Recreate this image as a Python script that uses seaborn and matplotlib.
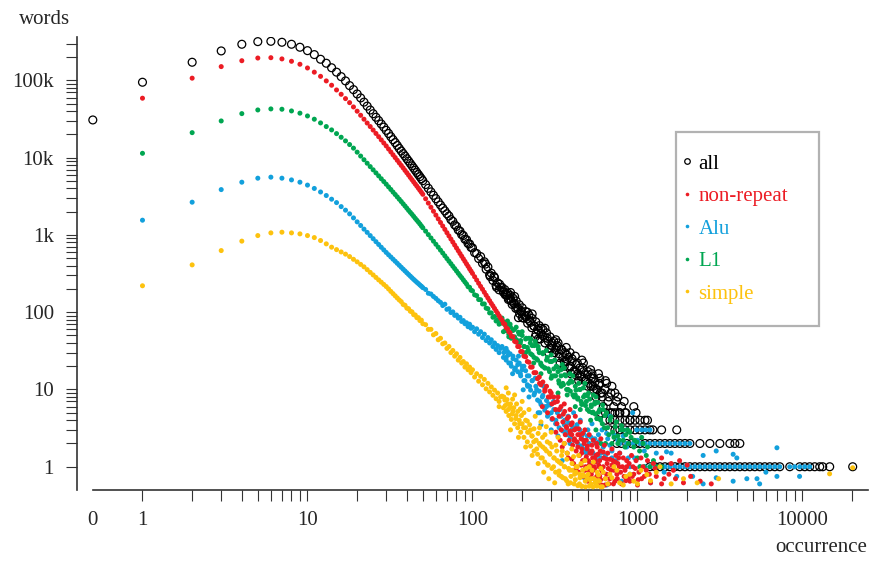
import numpy as np
import pandas as pd
import matplotlib
matplotlib.use("Agg")
import matplotlib.pyplot as plt
from matplotlib.lines import Line2D
from matplotlib.patches import Rectangle
import seaborn as sns

# occurrence values (x) -- every integer at the start, then every 2nd / 3rd ...
occ_head = [1, 2, 3, 4, 5, 6, 7, 8, 9, 10, 11, 12, 13, 14, 15, 16, 17, 18, 19, 20]
occ_mid = [21, 22, 23, 24, 25, 26, 27, 28, 29, 30, 31, 32, 33, 34, 35, 36, 37, 38, 39, 40,
           41, 42, 43, 44, 45, 46, 47, 48, 49, 50,
           52, 54, 56, 58, 60, 62, 64, 66, 68, 70, 72, 74, 76, 78, 80, 82, 84, 86, 88, 90,
           92, 94, 96, 98, 100,
           103, 106, 109, 112, 115, 118, 121, 124, 127, 130, 133, 136, 139, 142, 145, 148]
occ_tail = [151, 154, 157, 160, 163, 166, 169, 172, 176, 180, 184, 188, 192, 196, 200, 205,
            210, 215, 220, 225, 230, 236, 242, 248, 254, 260, 267, 274, 281, 288, 295, 303,
            311, 319, 327, 335, 344, 353, 362, 372, 382, 392, 402, 413, 424, 435, 447, 459,
            471, 484, 497, 510, 524, 538, 552, 567, 582, 598]

# words per occurrence
all_zero = 30800
all_head = [94800, 172000, 241000, 294000, 318000, 321000, 312000, 294000, 269000, 243000,
            216000, 188000, 167000, 146000, 128000, 112000, 98600, 85700, 76000, 66800]
all_mid = [59400, 52400, 46500, 41400, 37100, 33400, 30200, 27300, 24900, 22600,
           20600, 18700, 17100, 15700, 14400, 13200, 12200, 11300, 10500, 9700,
           9040, 8420, 7860, 7340, 6880, 6440, 6050, 5690, 5350, 5040,
           4490, 4020, 3610, 3260, 2950, 2680, 2440, 2230, 2050, 1880,
           1760, 1580, 1500, 1350, 1290, 1160, 1120, 1010, 985, 880,
           870, 775, 765, 690, 680,
           590, 575, 495, 525, 430, 450, 360, 385, 305, 320, 258, 280, 222, 240, 195, 210]
all_band = [210, 181, 196, 170, 178, 150, 166, 140, 152, 128, 140, 115, 125, 104, 114, 92,
            102, 82, 92, 74, 83, 66, 75, 60, 67, 53, 60, 47, 54, 42, 48, 37,
            42, 33, 37, 29, 33, 26, 30, 23, 26, 20, 23, 17.5, 21, 16, 19, 14.5,
            17, 13, 15.5, 12, 14, 11, 12.5, 10, 11.5, 9]
all_tail = [(155, 185), (158, 168), (162, 165), (165, 146), (170, 148), (174, 126), (178, 131),
            (183, 112), (188, 110), (193, 96), (198, 101), (204, 84), (210, 88), (216, 72),
            (222, 78), (229, 63), (236, 66), (243, 52), (250, 58), (258, 45), (266, 50), (275, 40),
            (284, 46), (293, 34), (303, 40), (313, 30), (324, 35), (335, 26), (347, 33), (360, 23),
            (373, 28), (387, 19), (401, 25), (416, 17), (432, 22), (448, 15), (465, 19), (483, 13),
            (502, 17), (522, 11), (543, 14), (565, 10), (588, 12), (612, 8), (637, 10), (663, 7),
            (690, 9), (718, 6), (747, 7), (778, 5),
            (170, 180), (190, 85), (215, 100), (240, 48), (260, 62), (290, 30), (320, 44), (340, 22),
            (370, 35), (395, 16), (420, 27), (440, 13), (470, 22), (500, 11), (530, 16), (560, 8),
            (590, 14), (620, 6), (650, 12), (700, 5), (730, 9), (800, 6), (850, 5), (900, 4),
            (950, 6), (120, 420), (128, 290), (135, 290), (140, 210), (146, 230),
            (180, 160), (200, 85), (230, 95), (250, 45), (275, 62), (300, 34), (330, 40), (360, 20),
            (390, 30), (430, 15), (460, 24), (520, 18), (540, 10), (580, 16), (610, 9), (640, 13),
            (670, 8), (700, 11), (760, 8), (830, 7)]
all_row1 = [1190, 1276, 1368, 1467, 1573, 1686, 1808, 1939, 2078, 2228, 2389, 2561, 2746, 2944,
            3157, 3385, 3629, 3891, 4172, 4473, 4795, 5141, 5512, 5910, 6336, 6794, 7284, 8373,
            9625, 10320, 11060, 11860, 12720, 13260, 14620, 20150]
all_row2 = [750, 800, 860, 920, 980, 1035, 1110, 1190, 1276, 1368, 1467, 1573, 1686, 1808,
            1939, 2078, 2389, 2746, 3157, 3629, 3891, 4172]
all_row3 = [681, 730, 782, 840, 901, 966, 1035, 1110, 1190, 1240, 1400, 1730]
all_row4 = [640, 681, 730, 782, 840, 901, 966, 1035, 1110, 1150]
all_row5 = [600, 640, 681, 730, 782, 840, 980]

nonrep_head = [58900, 107000, 151000, 180000, 195000, 197000, 190000, 177000, 162000, 145000,
               128000, 113000, 98600, 86700, 75300, 66200, 58200, 51600, 45400, 40000]
nonrep_mid = [35400, 31500, 28100, 25300, 22800, 20600, 18700, 17000, 15500, 14200,
              12960, 11880, 10900, 10040, 9260, 8570, 7950, 7380, 6850, 6380,
              5950, 5550, 5190, 4860, 4560, 4290, 4030, 3790, 3570, 3360,
              2940, 2585, 2285, 2028, 1806, 1616, 1450, 1307, 1181, 1070,
              973, 886, 809, 740, 679, 625, 575, 531, 491, 455,
              422, 393, 365, 341, 318,
              288, 261, 237, 216, 198, 181, 166, 153, 141, 130, 121, 112, 104, 97, 90, 84]
nonrep_band = [79, 72, 70, 63, 61, 56, 54, 49, 48, 42, 41, 36, 36, 31, 31, 27,
               26.5, 23, 22.5, 19.5, 19.5, 16.5, 16.5, 13.8, 14.5, 11.5, 12.5, 9.5, 11, 8, 9.5, 6.5,
               8, 5.5, 7, 4.5, 6, 3.8, 5.2, 3.2, 4.4, 2.7, 3.7, 2.2, 3.1, 1.8, 2.6, 1.5,
               2.2, 1.25, 1.85, 1.05, 1.5, 0.9, 1.25, 0.75, 1.05, 0.68]
nonrep_tail = [(255, 12), (265, 6), (275, 10), (285, 5), (295, 8), (305, 4.2),
               (315, 6.8), (325, 3.6), (335, 5.5), (345, 3), (355, 4.8), (365, 2.6), (375, 4.2),
               (385, 2.2), (395, 3.5), (405, 1.9), (415, 3), (425, 1.6), (435, 2.6), (445, 1.4),
               (455, 2.3), (465, 1.2), (475, 2), (485, 1), (495, 1.7), (505, 0.9), (515, 1.5),
               (525, 0.8), (535, 1.3), (545, 0.7), (555, 1.15), (565, 2), (575, 0.62), (585, 1),
               (595, 1.6), (605, 0.58), (615, 0.85), (625, 1.3), (640, 0.7), (655, 1.1), (670, 0.6),
               (690, 0.9), (710, 1.2), (730, 0.65), (750, 0.8), (775, 1), (800, 0.6), (830, 0.75),
               (860, 1), (900, 0.65), (950, 0.8), (1000, 0.58), (1060, 0.7), (1130, 0.9),
               (1200, 0.62), (1300, 0.75), (1400, 0.6), (1550, 0.8), (1700, 0.7), (1900, 0.62),
               (2100, 0.75), (2400, 0.65), (2800, 0.6), (330, 8), (360, 6.5), (390, 5.5), (420, 4.5),
               (450, 3.8), (480, 3), (510, 2.6), (540, 2.2), (570, 1.8), (600, 2.3), (630, 1.9),
               (660, 1.5), (700, 1.7), (740, 1.4), (780, 1.5), (820, 1.3), (860, 1.2), (920, 1.4),
               (980, 1.2), (1050, 1.3), (1150, 1.2), (1250, 1.1), (1400, 1.3), (1600, 1.1),
               (1800, 1.2), (2000, 1.05), (350, 1.8), (380, 1.3), (410, 1.1), (440, 0.85),
               (470, 0.75), (500, 0.65), (530, 1.9), (560, 1.4), (590, 0.75), (620, 1.0), (650, 0.8),
               (680, 1.25), (720, 0.9), (760, 1.1), (790, 0.85), (840, 0.9), (880, 0.7), (940, 1.0),
               (1020, 0.85), (1100, 0.75), (300, 9), (320, 2.8), (340, 2.2), (370, 3.3), (400, 2.6),
               (430, 2.1), (460, 1.7), (490, 1.35), (520, 1.05), (550, 0.95),
               (360, 2.0), (375, 1.5), (390, 2.9), (400, 1.25), (415, 2.3), (425, 0.95), (440, 3.1),
               (455, 1.05), (465, 2.7), (480, 0.9), (490, 2.2), (505, 1.2), (515, 0.72), (530, 1.6),
               (545, 1.0), (560, 0.62), (575, 1.45), (590, 1.2), (605, 0.9), (620, 1.55), (635, 0.58),
               (650, 1.25), (665, 0.95), (680, 0.7), (700, 1.05), (715, 0.6), (735, 1.15), (755, 0.7),
               (770, 1.3), (810, 1.0), (850, 0.66), (890, 1.1), (930, 0.75), (970, 0.95), (1010, 0.68),
               (1080, 1.0), (1180, 0.8), (1280, 0.95), (1450, 0.7), (1650, 0.9)]

alu_head = [1553, 2656, 3866, 4820, 5430, 5600, 5430, 5160, 4820, 4420,
            4000, 3600, 3240, 2904, 2624, 2328, 2094, 1875, 1663, 1478]
alu_mid = [1326, 1190, 1080, 981, 895, 819, 753, 693, 641, 594,
           554, 519, 486, 457, 430, 405, 382, 361, 342, 324,
           308, 293, 279, 266, 255, 244, 235, 225, 217, 208,
           197, 176, 172, 160, 151, 141, 134, 122, 127, 109,
           111, 99, 101, 91, 92, 84, 86, 76, 78, 71,
           73, 65, 70, 62, 64,
           56, 61, 52, 56, 47, 52, 43, 47, 40, 44, 36, 40, 33, 37, 30, 34]
alu_band = [36, 26, 33, 24, 31, 22, 29, 20, 27, 18, 24, 17, 22, 15, 20, 13,
            17.5, 11.5, 15, 9.8, 13, 8.5, 11, 7.3, 9.5, 6.4, 8.4, 5.4, 7.2, 4.7, 6.3, 4.1,
            5.5, 3.6, 5, 3.2, 4.5, 2.9, 4, 2.6, 3.7, 2.4, 3.4, 2.2, 3.2, 2.0, 3.0, 1.85,
            2.7, 1.7, 2.5, 1.6, 2.4, 1.5, 2.3, 1.4, 2.1, 1.3]
alu_tail = [(155, 30), (160, 26), (165, 28), (170, 22), (176, 25), (182, 19), (188, 21), (195, 16),
            (200, 18), (208, 13), (215, 15), (222, 11), (230, 13), (238, 9), (245, 10), (255, 7),
            (265, 8), (275, 6), (290, 6.5), (300, 5), (160, 34), (175, 16), (190, 27), (205, 20),
            (220, 8), (240, 14), (250, 5), (270, 11), (285, 4.5), (310, 7), (320, 4), (340, 5.5),
            (360, 3.5), (380, 4.5), (400, 3), (430, 3.5), (460, 2.5), (500, 3), (540, 2.2),
            (580, 2.6), (620, 1.8), (660, 2.3), (700, 1.6), (256, 5), (281, 6), (203, 9.9),
            (216, 11), (470, 1.66), (650, 2.7), (860, 1.8), (935, 5), (681, 4.5), (860, 3),
            (560, 2.0), (600, 1.5), (700, 1.3), (760, 2.2), (1100, 1.6), (1300, 1.5), (1500, 1.56),
            (1600, 1.5), (2500, 1.4), (3000, 1.6), (3800, 1.45), (7000, 1.76), (4000, 1.3),
            (1730, 0.75), (2160, 0.75), (3000, 0.72), (3800, 0.65), (4600, 0.7), (5300, 0.7),
            (5500, 0.6), (7000, 0.75), (9600, 0.75), (1200, 0.62), (900, 0.8), (650, 0.58),
            (800, 0.65), (1450, 0.85), (2500, 0.6), (6000, 0.85), (350, 1.2), (420, 0.9),
            (480, 0.7), (520, 1.1), (260, 3.5), (300, 3), (330, 2.5), (370, 2.8), (390, 2),
            (410, 5), (440, 1.9), (450, 4), (490, 1.5), (510, 2.0), (530, 3.6), (570, 1.2),
            (610, 3), (640, 1.4), (680, 1.9), (720, 2.6), (740, 1.2), (780, 1.5), (820, 2.5),
            (880, 1.3), (960, 1.3), (1000, 2.2)]
alu_row1 = [901, 1035, 1110, 1190, 1276, 1368, 1467, 1573, 1686, 1808, 1939, 2078, 2228, 2389,
            2561, 2746, 2944, 3157, 3385, 3629, 3891, 4172, 4473, 4795, 5141, 5512, 5910, 6336,
            6794, 7284, 8373, 8977, 9625, 10320, 11060]
alu_row2 = [782, 860, 940, 1035, 1110, 1190, 1276, 1368, 1467, 1573, 1686, 1808, 1939, 2078]
alu_row3 = [990, 1060, 1120, 1190]

l1_head = [11400, 21100, 29900, 37200, 41500, 42800, 42400, 40300, 37700, 34700,
           31500, 28200, 25300, 22900, 20500, 18400, 16500, 14800, 13300, 11800]
l1_mid = [10500, 9410, 8480, 7670, 6970, 6360, 5820, 5340, 4920, 4540,
          4190, 3880, 3590, 3340, 3110, 2900, 2710, 2530, 2370, 2220,
          2080, 1960, 1850, 1740, 1640, 1550, 1470, 1390, 1310, 1240,
          1120, 1010, 914, 831, 758, 694, 636, 584, 537, 495,
          458, 425, 394, 367, 342, 319, 298, 280, 262, 246,
          232, 214, 210, 193, 189,
          168, 164, 146, 145, 128, 128, 113, 111, 98, 98, 86, 88, 77, 80, 70, 72]
l1_band = [84, 56, 69, 58, 77, 48, 70, 46, 58, 48, 64, 41, 52, 43, 56, 36,
           45, 35, 46, 29, 37, 26, 38, 24, 30, 21, 29, 19, 24, 18.5, 23, 15,
           18.5, 15, 19.5, 12, 15, 12, 15.5, 10, 12, 9.5, 12.5, 8, 9.8, 7.8, 10, 6.4,
           8, 6.2, 8.3, 5.2, 6.3, 5.1, 6.8, 4.2, 5.1, 4]
l1_tail = [(155, 75), (158, 58), (162, 70), (166, 52), (170, 64), (175, 48), (180, 60), (185, 44),
           (190, 55), (195, 40), (200, 50), (206, 36), (212, 46), (218, 32), (224, 40), (230, 28),
           (237, 37), (244, 25), (251, 33), (259, 22), (267, 30), (275, 19), (284, 26), (293, 17),
           (302, 23), (312, 15), (322, 20), (333, 13), (344, 18), (356, 11.5), (368, 15), (380, 10),
           (393, 13), (406, 8.5), (420, 11), (434, 7.5), (449, 10), (464, 6.5), (480, 8.5),
           (497, 5.5), (514, 7.5), (532, 5), (550, 6.5), (570, 4.2), (590, 5.5), (612, 3.6),
           (635, 4.6), (658, 3.2), (682, 4), (707, 2.8), (733, 3.3), (760, 2.5), (790, 3),
           (820, 2.2), (850, 2.6), (880, 2), (915, 2.4), (950, 1.8), (990, 2.1), (1030, 1.6),
           (1080, 2), (1130, 1.4), (1190, 1), (1250, 1.2), (1310, 1), (1035, 1), (1100, 1),
           (1400, 1), (600, 2), (640, 2), (700, 2), (760, 2), (820, 3), (870, 3), (560, 3),
           (520, 4), (480, 12), (420, 6), (390, 16), (330, 9), (300, 28), (260, 16), (210, 30),
           (240, 42), (350, 21), (450, 5.5), (620, 5.5), (560, 8),
           (300, 14), (315, 24), (330, 17), (345, 11), (360, 19), (375, 8.5), (390, 12.5),
           (405, 15), (420, 8.5), (440, 12), (455, 7), (470, 10.5), (490, 7), (505, 9), (525, 6),
           (540, 8.5), (555, 4.8), (575, 6.8), (595, 4.2), (615, 6.3), (630, 3.2), (650, 5),
           (670, 2.6), (690, 4.4), (720, 2.4), (745, 3.8), (775, 2.2), (800, 3.4), (840, 1.8),
           (900, 2.8), (960, 2.2), (1000, 1.3), (1060, 2.4), (1150, 1.8), (280, 32), (265, 20),
           (250, 36), (235, 22), (225, 45), (205, 28)]

simple_head = [220, 410, 628, 832, 982, 1064, 1086, 1064, 1033, 982,
               925, 847, 767, 695, 646, 603, 565, 525, 484, 449]
simple_mid = [416, 387, 356, 328, 304, 282, 262, 245, 229, 215,
              200, 186, 174, 163, 153, 144, 137, 126, 123, 113,
              111, 103, 101, 93, 92, 85, 85, 78, 79, 71,
              69, 60, 60, 51, 53, 44, 46, 39, 40, 34,
              36, 30, 32, 27, 29, 24, 26, 22, 23, 19.5,
              21.5, 18, 19.5, 16.5, 18,
              14.5, 16, 12.8, 14.8, 11.5, 13.5, 10.2, 12, 9.3, 10.8, 8.4, 9.8, 7.6, 9, 7, 8]
simple_band = [8.2, 5.8, 7.3, 5.2, 6.5, 4.6, 5.8, 4.1, 5.2, 3.6, 4.6, 3.2, 4.0, 2.8, 3.6, 2.4,
               3.2, 2.1, 2.8, 1.85, 2.5, 1.6, 2.2, 1.45, 2.0, 1.3, 1.8, 1.15, 1.6, 1.05, 1.45, 0.95,
               1.3, 0.85, 1.2, 0.78, 1.1, 0.72, 1.0, 0.66, 0.95, 0.62, 0.9, 0.6, 0.85, 0.57, 0.8, 0.56,
               0.76, 0.55, 0.72, 0.56, 0.7, 0.55, 0.68, 0.56, 0.66, 0.55]
simple_tail = [(155, 8), (158, 6.2), (162, 7.4), (165, 5.5), (170, 6.5), (174, 4.8), (178, 5.8),
               (183, 4.2), (188, 5.2), (193, 3.6), (198, 4.6), (204, 3.2), (210, 4), (216, 2.8),
               (222, 3.5), (229, 2.5), (236, 3.1), (243, 2.2), (250, 2.7), (258, 1.9), (266, 2.4),
               (275, 1.7), (284, 2.1), (293, 1.5), (303, 1.8), (313, 1.3), (324, 1.6), (335, 1.15),
               (347, 1.4), (360, 1), (373, 1.25), (387, 0.9), (401, 1.1), (416, 0.8), (432, 1),
               (448, 0.72), (465, 0.9), (483, 0.65), (502, 0.8), (522, 0.6), (543, 0.7), (565, 0.58),
               (588, 0.65), (612, 0.55), (160, 10.5), (170, 3), (180, 8.5), (190, 2.4), (200, 7),
               (210, 1.8), (220, 5.5), (230, 1.4), (240, 4.5), (250, 1.1), (260, 3.8), (270, 0.85),
               (280, 3.3), (290, 0.7), (300, 2.8), (315, 0.62), (330, 2.4), (345, 0.75), (360, 2),
               (380, 0.6), (400, 1.7), (420, 0.68), (440, 1.4), (460, 0.56), (480, 1.2), (510, 1),
               (540, 1.15), (570, 0.85), (600, 0.95), (640, 0.7), (680, 0.8), (720, 1), (780, 0.62),
               (850, 0.75), (950, 0.65), (1050, 0.9), (1140, 0.79), (1300, 0.85), (1368, 1),
               (1600, 0.6), (1900, 0.7), (2300, 0.62), (3100, 0.7), (14600, 0.81), (20150, 0.97),
               (165, 9.0), (175, 7.5), (185, 6.5), (195, 5.6), (205, 5.0), (215, 3.9), (225, 3.0),
               (235, 2.1), (245, 1.7), (255, 3.2), (265, 1.3), (275, 2.6), (285, 1.05), (295, 2.0),
               (310, 1.0), (320, 1.9), (335, 0.88), (350, 1.6), (365, 0.7), (375, 1.5), (395, 0.75),
               (410, 1.35), (425, 1.0), (445, 0.6), (455, 1.1), (470, 0.78), (490, 0.95), (515, 0.68),
               (530, 0.9), (555, 0.62), (580, 0.78), (620, 0.85), (660, 0.6), (700, 0.72), (750, 0.9),
               (820, 0.58), (900, 0.8), (1000, 0.6), (1200, 0.66), (145, 6.0)]

series_names = ["all", "non-repeat", "Alu", "L1", "simple"]
series_colors = {"all": "black", "non-repeat": "#ec1c24", "Alu": "#12a0dc",
                 "L1": "#00a651", "simple": "#fdc20e"}
draw_order = ["all", "Alu", "L1", "non-repeat", "simple"]

ZERO_POS = 0.5  # where the "0" occurrence sits on the log axis
X_MIN, X_MAX = 0.401, 24950
Y_MIN, Y_MAX = 0.5, 365000


def build(name, head, mid, band, tail, rows=None, zero=None):
    xs = list(occ_head) + list(occ_mid) + list(occ_tail) + [p[0] for p in tail]
    ys = list(head) + list(mid) + list(band) + [p[1] for p in tail]
    for level, row in (rows or {}).items():
        xs += row
        ys += [level] * len(row)
    if zero is not None:
        xs = [0] + xs
        ys = [zero] + ys
    return pd.DataFrame({"occurrence": xs, "words": ys, "series": name})


df = pd.concat([
    build("all", all_head, all_mid, all_band, all_tail,
          {1: all_row1, 2: all_row2, 3: all_row3, 4: all_row4, 5: all_row5}, zero=all_zero),
    build("non-repeat", nonrep_head, nonrep_mid, nonrep_band, nonrep_tail),
    build("Alu", alu_head, alu_mid, alu_band, alu_tail,
          {1: alu_row1, 2: alu_row2, 3: alu_row3}),
    build("L1", l1_head, l1_mid, l1_band, l1_tail),
    build("simple", simple_head, simple_mid, simple_band, simple_tail),
], ignore_index=True)
df["pos"] = df["occurrence"].where(df["occurrence"] > 0, ZERO_POS)

sns.set_theme(style="ticks")
plt.rcParams["font.family"] = ["Liberation Serif", "DejaVu Serif"]

fig = plt.figure(figsize=(8.72, 5.62), dpi=100)
ax = fig.add_axes([77 / 872, 72 / 562, 791 / 872, 453 / 562])

for name in draw_order:
    sub = df[df["series"] == name]
    if name == "all":
        sns.scatterplot(data=sub, x="pos", y="words", ax=ax, marker="o", s=32,
                        color="black", facecolor="none", edgecolor="black",
                        linewidth=0.9, legend=False, zorder=2)
    else:
        sns.scatterplot(data=sub, x="pos", y="words", ax=ax, marker="o", s=13,
                        color=series_colors[name], edgecolor="none", linewidth=0,
                        legend=False, zorder=3)

ax.set_xscale("log")
ax.set_yscale("log")

xt = [ZERO_POS, 1, 10, 100, 1000, 10000]
ax.set_xticks(xt, ["0", "1", "10", "100", "1000", "10000"])
ax.set_xticks([m * 10 ** e for e in range(0, 5) for m in range(2, 10)
               if m * 10 ** e < X_MAX], minor=True)
ax.set_yticks([1, 10, 100, 1000, 10000, 100000], ["1", "10", "100", "1k", "10k", "100k"])
ax.set_yticks([m * 10 ** e for e in range(0, 6) for m in range(2, 10)
               if m * 10 ** e < Y_MAX], minor=True)
ax.xaxis.set_minor_formatter(plt.NullFormatter())
ax.yaxis.set_minor_formatter(plt.NullFormatter())
ax.set_xlim(X_MIN, X_MAX)
ax.set_ylim(Y_MIN, Y_MAX)
ax.set_xlabel("")
ax.set_ylabel("")

ax.tick_params(which="both", direction="out", length=7.7, width=0.8, color="#333333")
ax.tick_params(axis="x", which="major", labelsize=15, pad=7.5)
ax.tick_params(axis="y", which="major", labelsize=15, pad=9)
ax.xaxis.get_major_ticks()[0].tick1line.set_visible(False)

for side in ["top", "right"]:
    ax.spines[side].set_visible(False)
for side in ["left", "bottom"]:
    ax.spines[side].set_color("#333333")
    ax.spines[side].set_linewidth(1.2)
ax.spines["bottom"].set_bounds(ZERO_POS, X_MAX)

fig.text(45 / 872, 1 - 20 / 562, "words", ha="center", va="center", fontsize=15)
fig.text(867 / 872, 1 - 547 / 562, "occurrence", ha="right", va="center", fontsize=15)

# legend: grey box plus entries
ax.add_patch(Rectangle((0.7573, 0.362), 0.1808, 0.4283, transform=ax.transAxes,
                       facecolor="white", edgecolor="#b2b2b2", linewidth=1.6, zorder=5))
handles = []
for name in series_names:
    if name == "all":
        handles.append(Line2D([], [], linestyle="none", marker="o", markersize=4,
                              markerfacecolor="none", markeredgecolor="black",
                              markeredgewidth=0.9))
    else:
        handles.append(Line2D([], [], linestyle="none", marker="o", markersize=2.6,
                              markerfacecolor=series_colors[name], markeredgewidth=0))
leg = ax.legend(handles, series_names, loc="upper left", bbox_to_anchor=(0.7632, 0.7418),
                frameon=False, borderpad=0, borderaxespad=0, handlelength=0.6,
                handletextpad=0.25, labelspacing=0.62, fontsize=15)
leg.set_zorder(6)
for txt, name in zip(leg.get_texts(), series_names):
    txt.set_color(series_colors[name])

fig.savefig("out.png", dpi=100)
